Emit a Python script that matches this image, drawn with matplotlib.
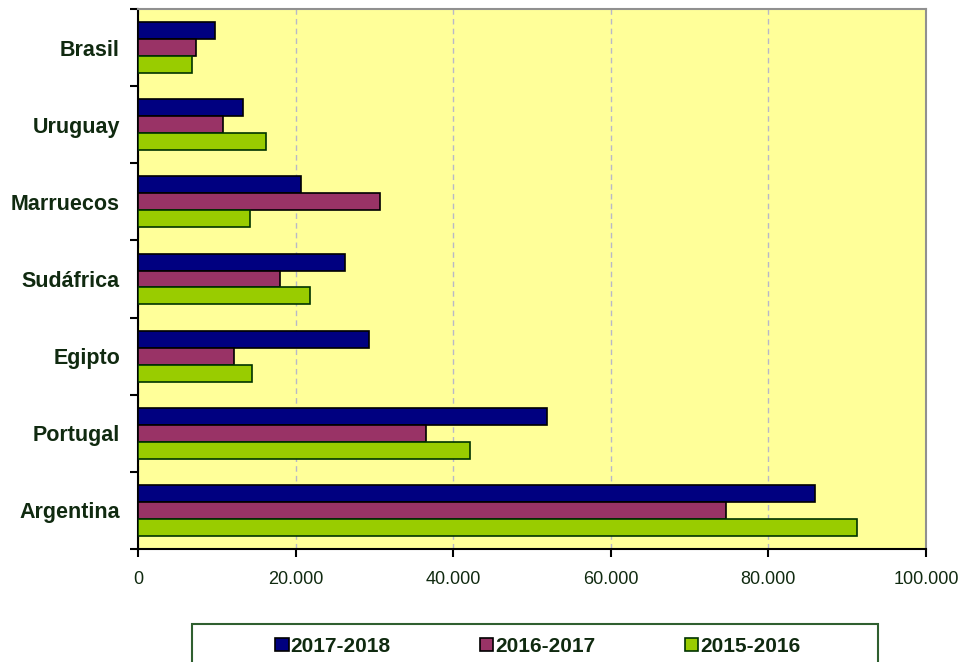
import numpy as np
import matplotlib
matplotlib.use('Agg')
import matplotlib.pyplot as plt
from matplotlib.ticker import FuncFormatter, FixedLocator
from matplotlib.patches import Rectangle

plt.rcParams['font.family'] = ['Liberation Sans', 'DejaVu Sans']

# data (top to bottom as in the chart)
paises = ['Brasil', 'Uruguay', 'Marruecos', 'Sudáfrica', 'Egipto', 'Portugal', 'Argentina']
v2017_2018 = [9800, 13300, 20700, 26300, 29300, 51900, 85900]
v2016_2017 = [7400, 10800, 30700, 18000, 12200, 36500, 74600]
v2015_2016 = [6900, 16200, 14200, 21800, 14500, 42100, 91200]
series_names = ['2017-2018', '2016-2017', '2015-2016']
x_ticks = [0, 20000, 40000, 60000, 80000, 100000]

txt_col = '#102a10'

fig = plt.figure(figsize=(9.63, 6.62), dpi=100)
ax = fig.add_axes([138/963, 1 - 549/662, 788/963, 540/662])
ax.set_facecolor('#FFFF99')

y = np.arange(len(paises))
h = 0.22
b1 = ax.barh(y - h, v2017_2018, height=h, color='#000080', edgecolor='black', linewidth=1.2, label=series_names[0], zorder=3)
b2 = ax.barh(y, v2016_2017, height=h, color='#993366', edgecolor='black', linewidth=1.2, label=series_names[1], zorder=3)
b3 = ax.barh(y + h, v2015_2016, height=h, color='#99CC00', edgecolor='#003300', linewidth=1.2, label=series_names[2], zorder=3)

ax.set_xlim(0, 100000)
ax.set_ylim(len(paises) - 0.5, -0.5)

ax.xaxis.set_major_locator(FixedLocator(x_ticks))
ax.xaxis.set_major_formatter(FuncFormatter(lambda v, p: f'{int(v):,}'.replace(',', '.')))
ax.grid(axis='x', color='#b8b8c8', linestyle=(0, (4, 3)), linewidth=1, zorder=1)

ax.set_yticks(y)
ax.set_yticklabels(paises, fontsize=15.5, fontweight='bold', color=txt_col)
ax.yaxis.set_minor_locator(FixedLocator(np.arange(-0.5, len(paises), 1.0)))
ax.tick_params(axis='y', which='major', length=0, pad=13)
ax.tick_params(axis='y', which='minor', length=6, width=1.5, direction='out', color='black')
ax.tick_params(axis='x', length=6, width=1.5, direction='out', labelsize=13, labelcolor=txt_col, pad=9.5)

for s in ['left', 'bottom']:
    ax.spines[s].set_color('black')
    ax.spines[s].set_linewidth(1.5)
for s in ['top', 'right']:
    ax.spines[s].set_color('#909090')
    ax.spines[s].set_linewidth(1.5)

# legend box (cut off by the bottom edge)
fig.patches.append(Rectangle((192/963, -0.05), 686/963, 0.05 + 1 - 624/662,
                             transform=fig.transFigure, facecolor='white',
                             edgecolor='#2f5f2f', linewidth=1.5))
leg = fig.legend(handles=[b1, b2, b3], labels=series_names, ncol=3,
                 loc='center', bbox_to_anchor=(0.5587, 1 - 646.5/662),
                 frameon=False, borderpad=0, columnspacing=4.3,
                 handlelength=0.63, handleheight=0.63, handletextpad=0.1,
                 prop={'weight': 'bold', 'size': 15})
for t in leg.get_texts():
    t.set_color(txt_col)

fig.savefig('out.png', dpi=100)
